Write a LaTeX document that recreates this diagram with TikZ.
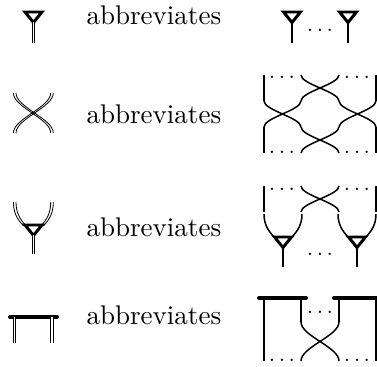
\documentclass[tikz,border=0pt]{standalone}
\usepackage{amsmath}
\usepackage{tikz}
\usetikzlibrary{positioning}

\newcommand{\crosspair}[5][strand]{%
  \draw[#1] (#2,#4) .. controls (#2,{#4+(#5-#4)*0.36}) and (#3,{#5-(#5-#4)*0.36}) .. (#3,#5);
  \draw[#1] (#3,#4) .. controls (#3,{#4+(#5-#4)*0.36}) and (#2,{#5-(#5-#4)*0.36}) .. (#2,#5);
}
\newcommand{\vertexmark}[2]{\draw[vertexline] (#1-8.5,#2) -- (#1+8.5,#2) -- (#1,#2+10.5) -- cycle;}

\begin{document}
\begin{tikzpicture}[
    x=0.37pt, y=-0.37pt,
    strand/.style={line width=0.56pt},
    thinstrand/.style={line width=0.3pt},
    dbl/.style={double, line width=0.3pt, double distance=0.55pt},
    vertexline/.style={line width=1.1pt, line join=miter},
    barline/.style={line width=1.45pt, line cap=round},
    word/.style={anchor=base west, inner sep=0pt},
    dotsnode/.style={inner sep=0pt, font=\fontsize{5.5}{7}\selectfont\boldmath}
]
\useasboundingbox (0,0) rectangle (377,367);

% words
\node[word] (wordA) at (86,25) {abbreviates};
\node[word] (wordB) at (86,124) {abbreviates};
\node[word] (wordC) at (86,237) {abbreviates};
\node[word] (wordD) at (86,325) {abbreviates};

% first row
\vertexmark{33.5}{12}
\draw[dbl] (33.5,22) -- (33.5,43);
\foreach \vx in {292,348} {
  \vertexmark{\vx}{12}
  \draw[strand] (\vx,22) -- (\vx,43);
}
\node[dotsnode] (dotsA) at (320,30) {$\ldots$};

% second row
\foreach \off in {-1.3,1.3} {
  \crosspair[thinstrand]{14.7+\off}{52+\off}{93}{133}
}
\draw[strand] (264,75) -- (264,101);
\draw[strand] (376,75) -- (376,101);
\draw[strand] (264,127) -- (264,153);
\draw[strand] (376,127) -- (376,153);
\crosspair{301}{339}{75}{101}
\crosspair{264}{301}{101}{127}
\crosspair{339}{376}{101}{127}
\crosspair{301}{339}{127}{153}
\node[dotsnode] (dotsB) at (282,77) {$\ldots$};
\node[dotsnode] (dotsC) at (357,77) {$\ldots$};
\node[dotsnode] (dotsD) at (282,152) {$\ldots$};
\node[dotsnode] (dotsE) at (357,152) {$\ldots$};

% third row
\foreach \off in {-1.3,1.3} {
  \draw[thinstrand] (14.7+\off,202) .. controls (14.7+\off,212) and (18+\off,219) .. (25+\off,226);
  \draw[thinstrand] (52+\off,202) .. controls (52+\off,212) and (49+\off,219) .. (42+\off,226);
}
\vertexmark{33.5}{225}
\draw[dbl] (33.5,235) -- (33.5,254);
\draw[strand] (264,186) -- (264,212);
\draw[strand] (376,186) -- (376,212);
\crosspair{301}{339}{186}{212}
\foreach \vx in {283,357} {
  \vertexmark{\vx}{237}
  \draw[strand] (\vx,247) -- (\vx,267);
  \draw[strand] (\vx-19,214) .. controls (\vx-19,224) and (\vx-15,231) .. (\vx-8,238);
  \draw[strand] (\vx+19,214) .. controls (\vx+19,224) and (\vx+15,231) .. (\vx+8,238);
}
\node[dotsnode] (dotsF) at (282,189) {$\ldots$};
\node[dotsnode] (dotsG) at (357,189) {$\ldots$};
\node[dotsnode] (dotsH) at (320,254) {$\ldots$};

% fourth row
\draw[barline] (10,317) -- (57,317);
\draw[dbl] (14.7,317) -- (14.7,343);
\draw[dbl] (52,317) -- (52,343);
\draw[barline] (259,298) -- (306,298);
\draw[barline] (334,298) -- (377,298);
\draw[strand] (264,298) -- (264,361);
\draw[strand] (376,298) -- (376,361);
\draw[strand] (301,298) -- (301,322);
\draw[strand] (339,298) -- (339,322);
\crosspair{301}{339}{322}{361}
\node[dotsnode] (dotsI) at (320,312) {$\ldots$};
\node[dotsnode] (dotsJ) at (282,360) {$\ldots$};
\node[dotsnode] (dotsK) at (357,360) {$\ldots$};
\end{tikzpicture}
\end{document}
